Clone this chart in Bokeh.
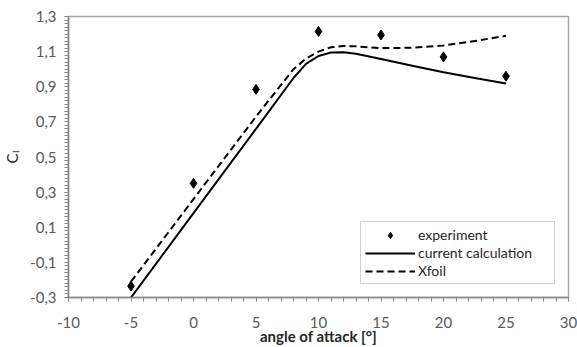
from bokeh.plotting import figure
from bokeh.models import FixedTicker, Legend, LegendItem, Range1d
from bokeh.embed import file_html
from bokeh.resources import INLINE

# ---- data ----
aoa_exp = [-5, 0, 5, 10, 15, 20, 25]
cl_exp = [-0.235, 0.35, 0.885, 1.215, 1.195, 1.07, 0.96]

aoa_calc = [-5, 0, 5, 8, 9, 10, 11, 12, 13, 15, 17.5, 20, 22.5, 25]
cl_calc = [-0.30, 0.18, 0.66, 0.95, 1.03, 1.075, 1.095, 1.097, 1.088, 1.058, 1.02, 0.982, 0.95, 0.918]

aoa_xfoil = [-5, 0, 5, 8, 9, 10, 11, 12, 13, 15, 17.5, 20, 22.5, 25]
cl_xfoil = [-0.21, 0.26, 0.73, 1.00, 1.06, 1.10, 1.125, 1.132, 1.13, 1.12, 1.122, 1.135, 1.16, 1.19]

x_ticks = [-10, -5, 0, 5, 10, 15, 20, 25, 30]
x_tick_labels = ["-10", "-5", "0", "5", "10", "15", "20", "25", "30"]
y_ticks = [-0.3, -0.1, 0.1, 0.3, 0.5, 0.7, 0.9, 1.1, 1.3]
y_tick_labels = ["-0,3", "-0,1", "0,1", "0,3", "0,5", "0,7", "0,9", "1,1", "1,3"]

FONT = "Lato"
GRAY_TXT = "#595959"
AX = "#868686"

p = figure(width=577, height=347, output_backend="svg", toolbar_location=None,
           x_range=Range1d(-10, 30), y_range=Range1d(-0.3, 1.3),
           min_border_left=67, min_border_right=9, min_border_top=16, min_border_bottom=49)
p.grid.visible = False
p.outline_line_color = "#a6a6a6"
p.outline_line_width = 1.5
p.background_fill_color = "white"
p.border_fill_color = "white"

# x axis
xa = p.xaxis[0]
xa.ticker = FixedTicker(ticks=x_ticks, minor_ticks=list(range(-10, 31)))
xa.major_label_overrides = {t: l for t, l in zip(x_ticks, x_tick_labels)}
xa.axis_label = "angle of attack [°]"
xa.axis_label_text_font = FONT
xa.axis_label_text_font_style = "bold"
xa.axis_label_text_font_size = "15px"
xa.axis_label_text_color = "#262626"
xa.axis_label_standoff = -4
xa.major_label_text_font = FONT
xa.major_label_text_font_size = "15px"
xa.major_label_text_color = GRAY_TXT
xa.major_label_standoff = 15
xa.axis_line_color = AX
xa.axis_line_width = 1.5
xa.major_tick_line_color = AX
xa.minor_tick_line_color = AX
xa.major_tick_out = 4
xa.major_tick_in = 0
xa.minor_tick_out = 4
xa.minor_tick_in = 0

# y axis
ya = p.yaxis[0]
minor_y = [round(-0.3 + 0.02 * i, 2) for i in range(81)]
ya.ticker = FixedTicker(ticks=y_ticks, minor_ticks=minor_y)
ya.major_label_overrides = {t: l for t, l in zip(y_ticks, y_tick_labels)}
ya.major_label_text_font = FONT
ya.major_label_text_font_size = "15px"
ya.major_label_text_color = GRAY_TXT
ya.major_label_standoff = 8
ya.axis_line_color = AX
ya.axis_line_width = 1.5
ya.major_tick_line_color = AX
ya.minor_tick_line_color = AX
ya.major_tick_out = 4
ya.major_tick_in = 0
ya.minor_tick_out = 4
ya.minor_tick_in = 0
ya.axis_label = "C\u2097"
ya.axis_label_text_font = FONT
ya.axis_label_text_font_size = "15px"
ya.axis_label_text_font_style = "normal"
ya.axis_label_text_color = "#262626"
ya.axis_label_standoff = 6

r_exp = p.scatter(aoa_exp, cl_exp, marker="diamond", size=10, color="black")
r_calc = p.line(aoa_calc, cl_calc, line_color="black", line_width=2)
r_xf = p.line(aoa_xfoil, cl_xfoil, line_color="black", line_width=2, line_dash="7 4")

legend = Legend(items=[LegendItem(label="experiment", renderers=[r_exp]),
                       LegendItem(label="current calculation", renderers=[r_calc]),
                       LegendItem(label="Xfoil", renderers=[r_xf])],
                location="bottom_right", margin=13,
                label_text_font=FONT, label_text_font_size="14px", label_text_color="#262626",
                glyph_width=50, glyph_height=16, label_height=16, label_width=132,
                spacing=1, label_standoff=3, padding=4,
                border_line_color="#a6a6a6", border_line_width=1.5,
                background_fill_alpha=1)
p.add_layout(legend)

open("out.html", "w").write(file_html(p, INLINE))
